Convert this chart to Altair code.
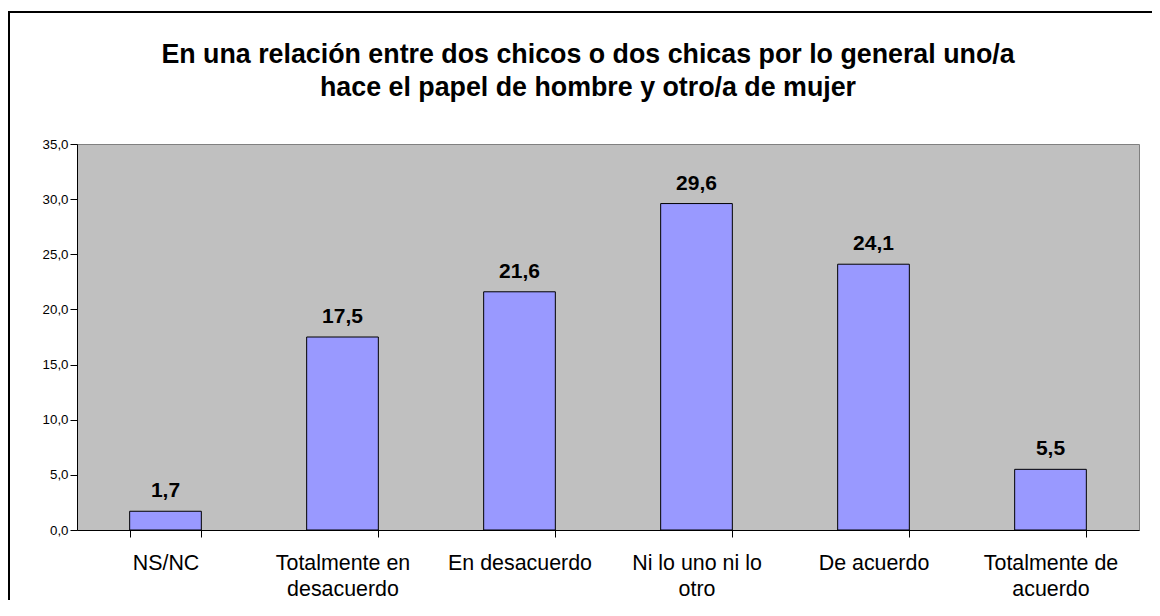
import altair as alt
import pandas as pd

categories = ["NS/NC", "Totalmente en\ndesacuerdo", "En desacuerdo",
              "Ni lo uno ni lo\notro", "De acuerdo", "Totalmente de\nacuerdo"]
values = [1.7, 17.5, 21.6, 29.6, 24.1, 5.5]
title_lines = ["En una relación entre dos chicos o dos chicas por lo general uno/a",
               "hace el papel de hombre y otro/a de mujer"]
y_ticks = [0, 5, 10, 15, 20, 25, 30, 35]

df = pd.DataFrame({"cat": categories, "val": values})

FONT = "Liberation Sans"
W, H = 1062, 386

xenc = alt.X("cat:N", sort=categories, title=None,
             scale=alt.Scale(paddingInner=0.595, paddingOuter=0.2975),
             axis=alt.Axis(labelExpr="split(datum.label, '\\n')", labelAngle=0,
                           labelFont=FONT, labelFontSize=21.4, labelColor="black",
                           labelBaseline="alphabetic", labelLineHeight=26,
                           labelPadding=32, tickBand="extent", tickSize=7,
                           tickColor="black", domainColor="black", labelLimit=300))
yenc = alt.Y("val:Q", title=None,
             scale=alt.Scale(domain=[0, 35], nice=False, zero=True),
             axis=alt.Axis(values=y_ticks,
                           labelExpr="replace(format(datum.value, '.1f'), '.', ',')",
                           labelFont=FONT, labelFontSize=13.3, labelColor="black",
                           tickSize=7, tickColor="black", domainColor="black",
                           labelPadding=2, grid=False))

bars = alt.Chart(df).mark_bar(color="#9999FF", stroke="black", strokeWidth=1).encode(
    x=xenc, y=yenc)

labels = alt.Chart(df).transform_calculate(
    lab="replace(format(datum.val, '.1f'), '.', ',')"
).mark_text(font=FONT, fontSize=21, fontWeight="bold", color="black",
            baseline="alphabetic", dy=-14).encode(
    x=alt.X("cat:N", sort=categories), y="val:Q", text="lab:N")

# chart title as a text block
title = alt.Chart(pd.DataFrame({"t": [0]})).mark_text(
    font=FONT, fontSize=26.8, fontWeight="bold", color="black",
    align="center", baseline="alphabetic", lineHeight=33).encode(
    x=alt.value(511), y=alt.value(-81), text=alt.value(title_lines))

# outer frame (decorative)
frame_top = alt.Chart(df).mark_rule(color="black", strokeWidth=2).encode(
    x=alt.value(-68), x2=alt.value(W + 20), y=alt.value(-132))
frame_left = alt.Chart(df).mark_rule(color="black", strokeWidth=2).encode(
    x=alt.value(-68), y=alt.value(-133), y2=alt.value(H + 80))

chart = alt.layer(bars, labels, title, frame_top, frame_left).properties(
    width=W, height=H,
    padding={"left": 69, "top": 136, "right": 13, "bottom": 70},
    autosize=alt.AutoSizeParams(type="none"),
).configure_view(fill="#C0C0C0", stroke="#808080", strokeWidth=1)

chart.save("out.html", embed_options={"renderer": "svg", "actions": False})
